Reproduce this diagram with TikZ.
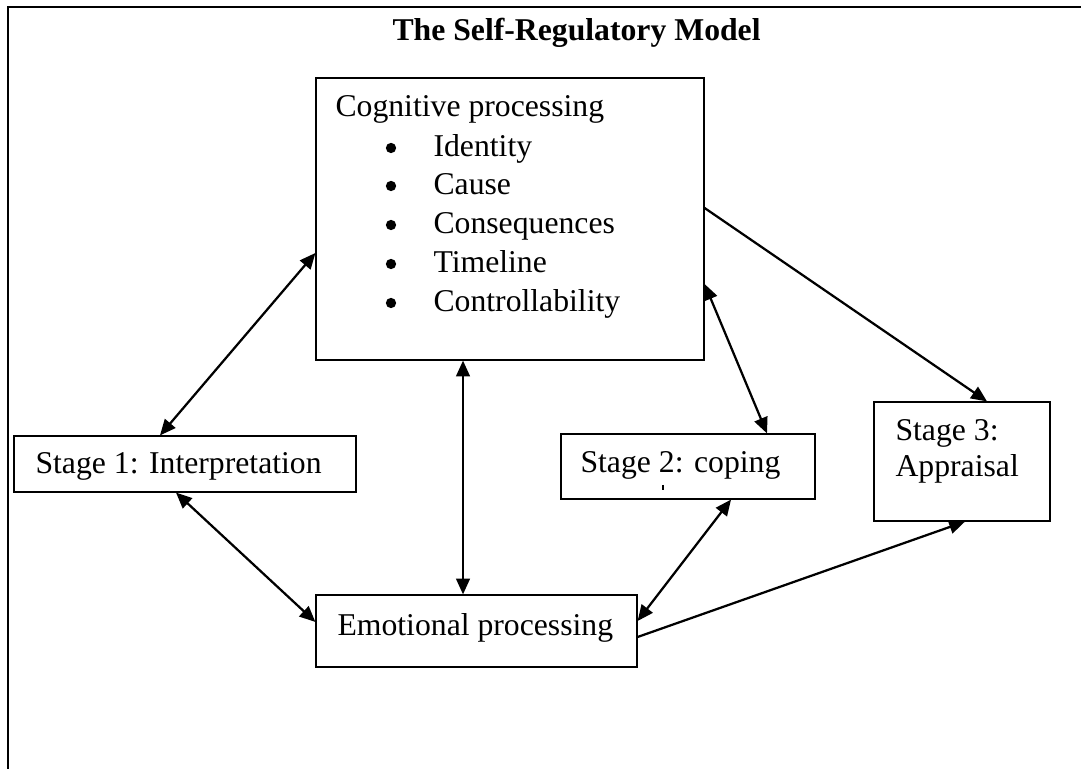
\documentclass[tikz,border=0pt]{standalone}
\usepackage{fontspec}
\setmainfont{Liberation Serif}
\usetikzlibrary{arrows.meta,fit}

\begin{document}
\begin{tikzpicture}[
  x=0.3785pt, y=-0.3785pt,
  font=\fontsize{12pt}{14pt}\selectfont,
  box/.style={draw, line width=0.45pt, inner sep=0pt},
  txt/.style={anchor=base west, inner sep=0pt},
  dot/.style={circle, fill, inner sep=0pt, minimum size=3.9pt},
  tip/.tip={Triangle[length=6pt,width=5.2pt]},
  link/.style={line width=0.85pt, {tip}-{tip}},
  flow/.style={line width=0.85pt, -{tip}}
]
\useasboundingbox (0,0) rectangle (1081,769);

% open frame: left side and top only
\draw[line width=1pt] (8,769) -- (8,7) -- (1081,7);

% title
\node[txt, font=\fontsize{12pt}{14pt}\selectfont\bfseries] (title) at (392,41) {The Self-Regulatory Model};

% boxes
\node[box, fit={(316,78) (704,360)}] (cog) {};
\node[box, fit={(14,436) (356,492)}] (s1) {};
\node[box, fit={(561,434) (815,499)}] (s2) {};
\node[box, fit={(874,402) (1050,521)}] (s3) {};
\node[box, fit={(316,595) (637,667)}] (emo) {};

% box texts
\node[txt] (cogt) at (335,117) {Cognitive processing};
\foreach \y/\t [count=\i] in {157/Identity, 195/Cause, 234/Consequences, 273/Timeline, 312/Controllability}{
  \node[dot] (b\i) at (391,\y-9) {};
  \node[txt] (it\i) at (433,\y) {\t};
}
\node[txt] (s1t) at (35,474) {Stage 1: Interpretation};
\node[txt] (s2t) at (580,473) {Stage 2: coping};
\draw[line width=0.6pt] (663,485) -- (663,490);
\node[txt] (s3a) at (895,441) {Stage 3:};
\node[txt] (s3b) at (895,477) {Appraisal};
\node[txt] (emot) at (337,635) {Emotional processing};

% connectors
\draw[link] (cog.west |- 0,253) -- (s1.north -| 160,0);
\draw[link] (s1.south -| 176,0) -- (emo.west |- 0,622);
\draw[link] (cog.south -| 463,0) -- (emo.north -| 463,0);
\draw[link] (cog.east |- 0,284) -- (s2.north -| 767,0);
\draw[flow] (cog.east |- 0,208) -- (s3.north -| 987,0);
\draw[link] (s2.south -| 731,0) -- (emo.east |- 0,621);
\draw[flow] (emo.east |- 0,637) -- (s3.south -| 965,0);
\end{tikzpicture}
\end{document}
